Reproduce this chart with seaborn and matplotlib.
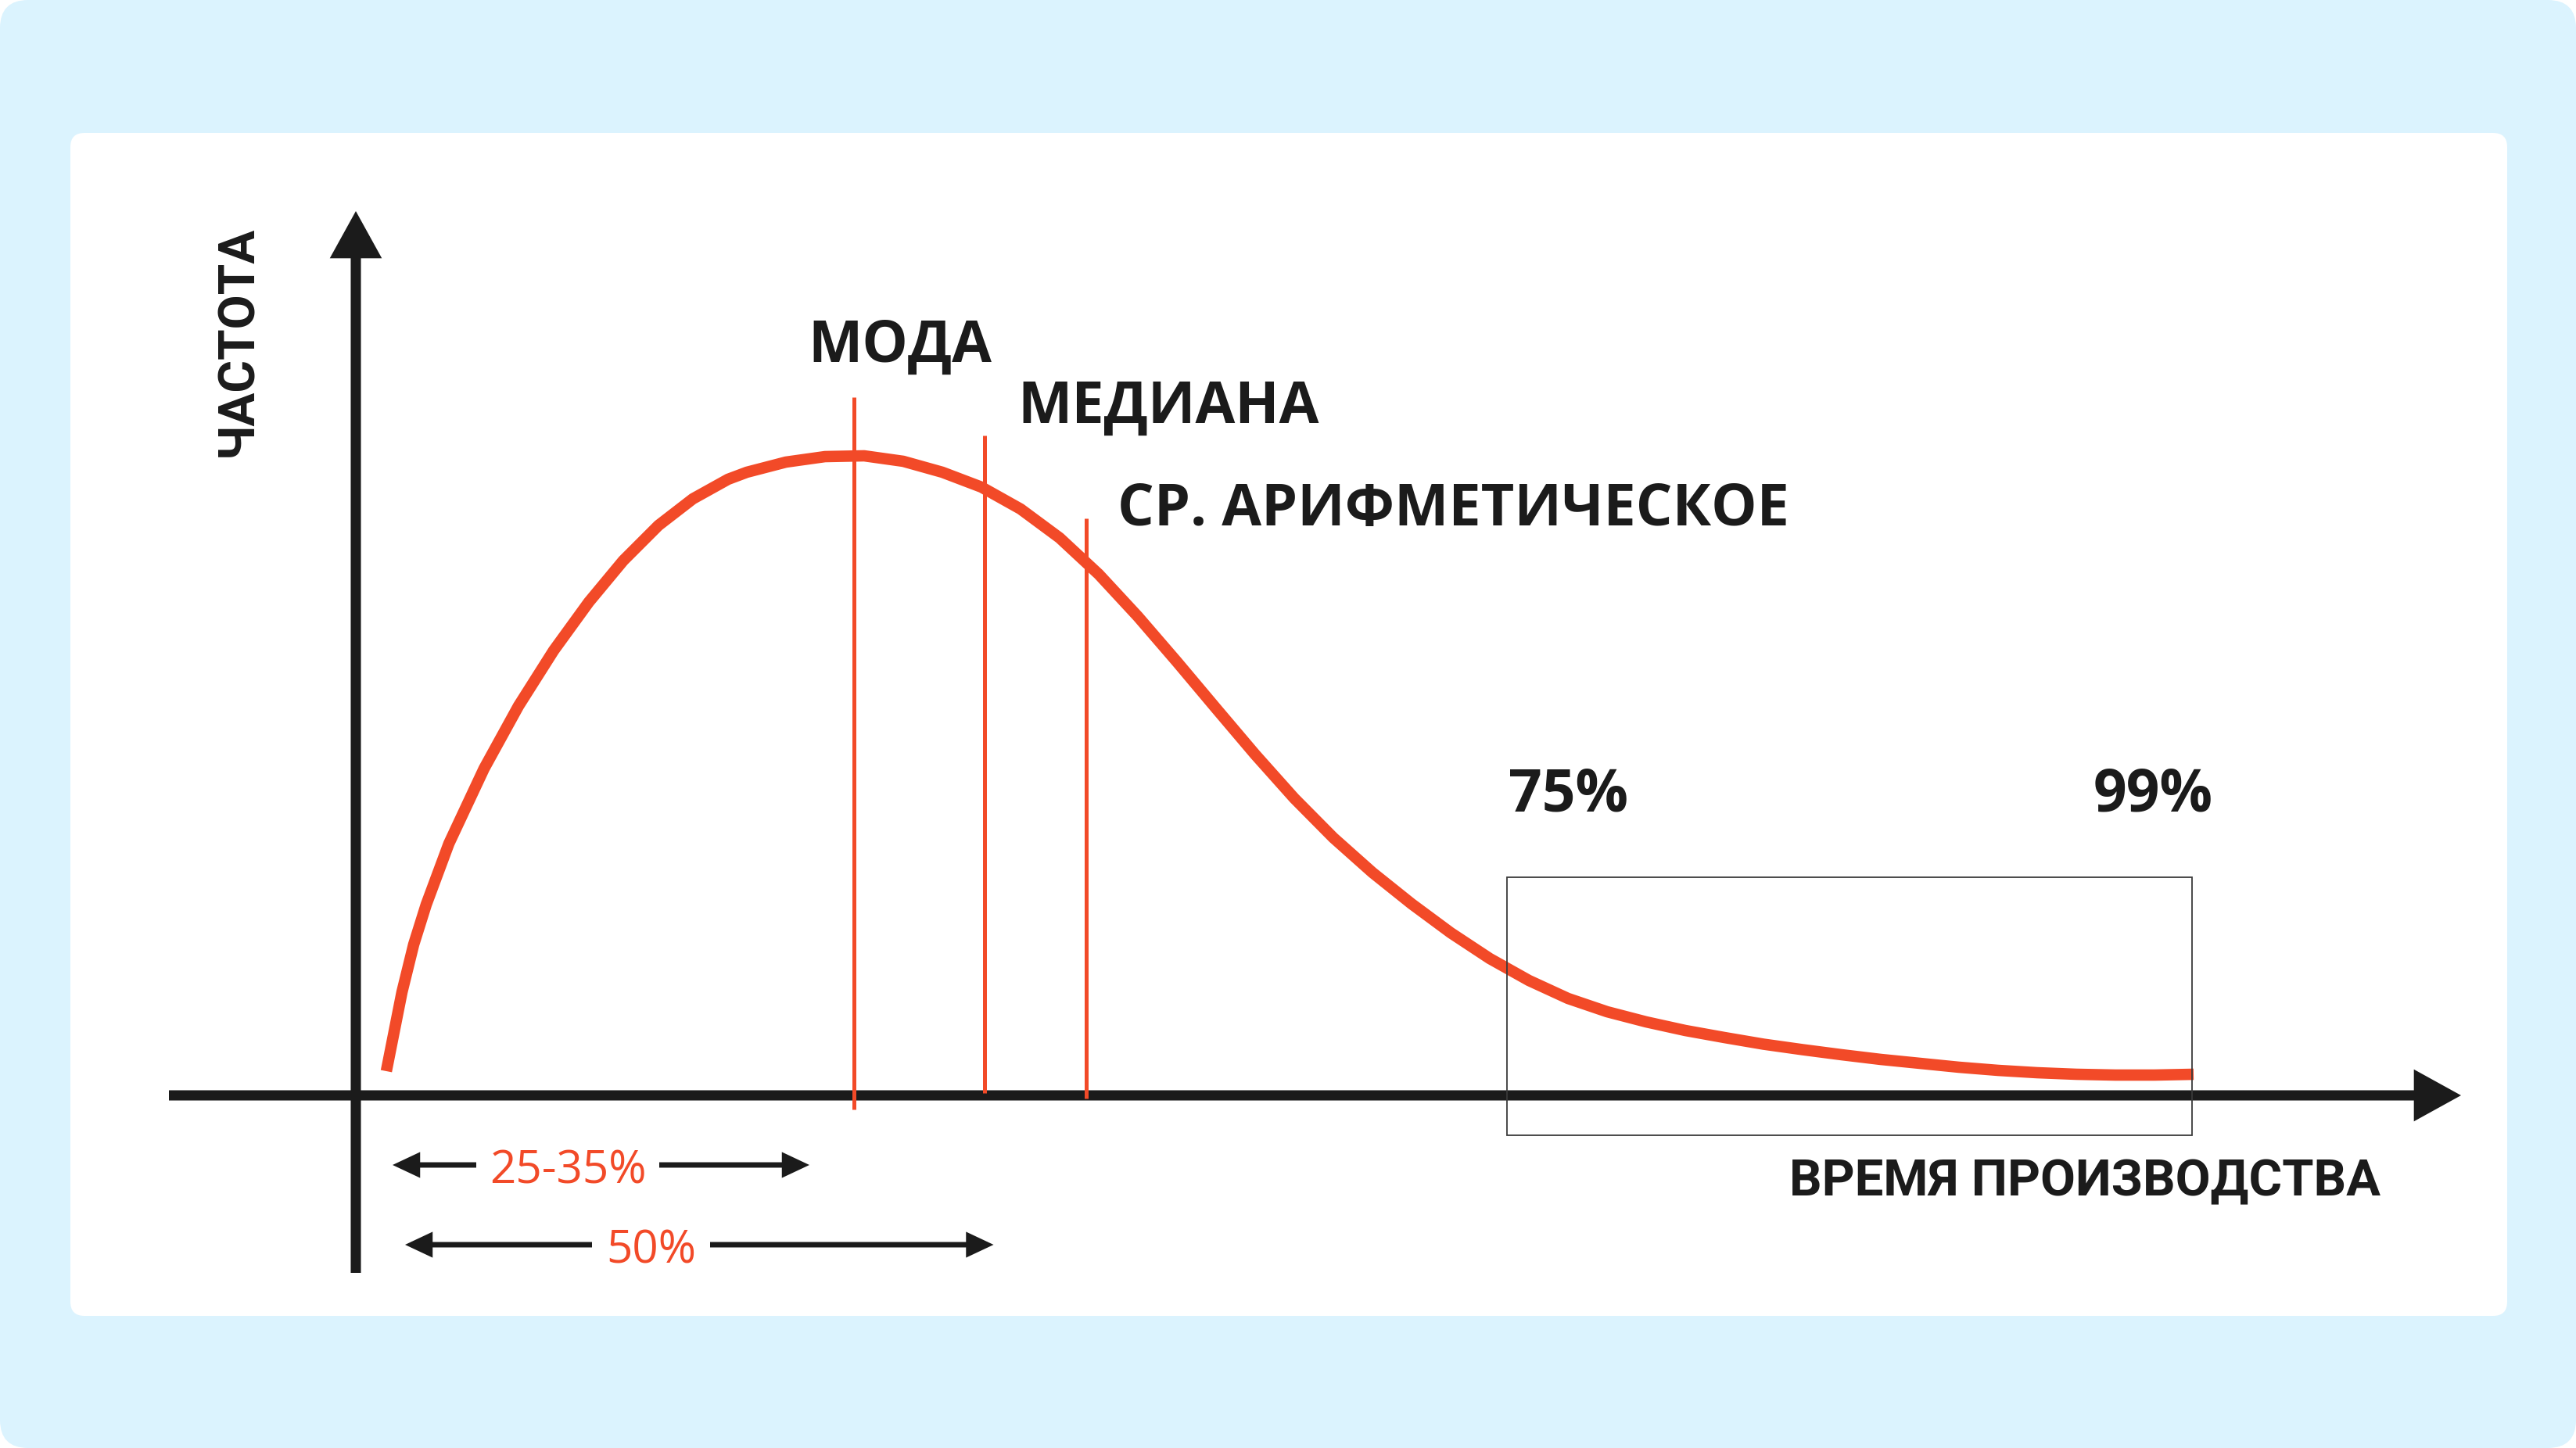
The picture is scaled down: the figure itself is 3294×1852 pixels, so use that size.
import matplotlib
matplotlib.use("Agg")
import numpy as np
import pandas as pd
import matplotlib.pyplot as plt
import seaborn as sns
from matplotlib.patches import FancyBboxPatch, Rectangle

# ---------------- data ----------------
curve_t = [0.39, 0.59, 0.74, 0.90, 1.19, 1.64, 2.08, 2.53, 2.98, 3.42, 3.87, 4.31,
           4.76, 5.00, 5.50, 6.00, 6.50, 7.00, 7.50, 8.00, 8.50, 9.00, 9.50, 10.00,
           10.50, 11.00, 11.50, 12.00, 12.50, 13.00, 13.50, 14.00, 14.50, 15.00,
           15.50, 16.00, 16.50, 17.00, 17.50, 18.00, 18.50, 19.00, 19.50, 20.00,
           20.50, 21.00, 21.50, 22.00, 22.50, 23.00, 23.50]
curve_f = [0.31, 1.32, 1.93, 2.44, 3.22, 4.18, 4.98, 5.69, 6.31, 6.84, 7.29, 7.63,
           7.88, 7.97, 8.10, 8.17, 8.18, 8.11, 7.97, 7.78, 7.50, 7.13, 6.665, 6.125,
           5.545, 4.95, 4.36, 3.80, 3.295, 2.85, 2.45, 2.08, 1.75, 1.47,
           1.24, 1.07, 0.94, 0.83, 0.74, 0.655, 0.585, 0.52, 0.46, 0.41,
           0.36, 0.32, 0.29, 0.27, 0.26, 0.26, 0.27]

mark_names = ["МОДА", "МЕДИАНА", "СР. АРИФМЕТИЧЕСКОЕ"]
mark_t = [6.37, 8.04, 9.34]
mark_top = [8.93, 8.44, 7.38]
mark_bottom = [-0.18, 0.03, -0.04]

pct_labels = ["75%", "99%"]
pct_t = [14.72, 23.48]

range_labels = ["25-35%", "50%"]
range_end = [5.80, 8.155]

x_title = "ВРЕМЯ ПРОИЗВОДСТВА"
y_title = "ЧАСТОТА"

# ---------------- style ----------------
sns.set_theme(style="white")
plt.rcParams["font.family"] = ["Open Sans", "DejaVu Sans"]

RED = "#F24A28"
INK = "#1B1B1B"
BG = "#DBF3FE"

W, H = 3294, 1852
fig = plt.figure(figsize=(W / 100, H / 100), dpi=100)
fig.patch.set_facecolor("white")

# background (pixel coordinates)
bg = fig.add_axes([0, 0, 1, 1])
bg.set_xlim(0, W)
bg.set_ylim(H, 0)
bg.axis("off")
bg.add_patch(FancyBboxPatch((0, 0), W, H, boxstyle="round,pad=0,rounding_size=36",
                            fc=BG, ec="none"))
bg.add_patch(FancyBboxPatch((90, 170), 3116, 1513, boxstyle="round,pad=0,rounding_size=18",
                            fc="white", ec="none"))

# main axes: 1 unit = 100 px, origin at the axes crossing
ax = fig.add_axes([0, 0, 1, 1])
ax.patch.set_alpha(0)

AX_LW = 9.4

def arrow(x0, y0, x1, y1, lw, hl, hw, z=3):
    ax.annotate("", xy=(x1, y1), xytext=(x0, y0),
                arrowprops=dict(arrowstyle=f"-|>,head_length={hl},head_width={hw}",
                                lw=lw, color=INK, shrinkA=0, shrinkB=0,
                                mutation_scale=1, joinstyle="miter", capstyle="butt"),
                zorder=z)

# distribution curve
df = pd.DataFrame({"t": curve_t, "f": curve_f})
sns.lineplot(data=df, x="t", y="f", ax=ax, sort=False, estimator=None,
             color=RED, lw=10.5, solid_capstyle="butt", solid_joinstyle="round",
             zorder=4)
ax.set_xlim(-4.55, 28.39)
ax.set_ylim(-4.51, 14.01)
ax.axis("off")

# axes with arrows
arrow(-2.39, 0, 26.92, 0, AX_LW, 29, 16)
arrow(0, -2.27, 0, 11.31, AX_LW, 29, 16)

# mode / median / mean lines
ax.vlines(mark_t, mark_bottom, mark_top, colors=RED, lw=3.6, zorder=6)

label_pos = [(5.78, 9.38), (8.46, 8.60), (9.74, 7.29)]
for name, (tx, ty) in zip(mark_names, label_pos):
    ax.text(tx, ty, name, ha="left", va="baseline", fontsize=53,
            fontweight="bold", color=INK, zorder=7)

# tail box (75% .. 99%)
ax.add_patch(Rectangle((pct_t[0], -0.51), pct_t[1] - pct_t[0], 2.79 + 0.51,
                       fill=False, ec="#3a3a3a", lw=1.3, zorder=7))
for lab, tx in zip(pct_labels, [14.74, 22.22]):
    ax.text(tx, 3.63, lab, ha="left", va="baseline", fontsize=54,
            fontweight="bold", color=INK, zorder=7)

# range arrows under the axis
SM_LW = 5.0
# 25-35%
arrow(1.54, -0.89, 0.47, -0.89, SM_LW, 17, 8)
arrow(3.88, -0.89, range_end[0], -0.89, SM_LW, 17, 8)
ax.text(2.71, -1.13, range_labels[0], ha="center", va="baseline",
        fontsize=42, color=RED, zorder=7)
# 50%
arrow(3.02, -1.91, 0.63, -1.91, SM_LW, 17, 8)
arrow(4.53, -1.91, range_end[1], -1.91, SM_LW, 17, 8)
ax.text(3.78, -2.14, range_labels[1], ha="center", va="baseline",
        fontsize=42, color=RED, zorder=7)

# axis titles (narrow bold)
cond = ["Roboto", "DejaVu Sans"]
ax.text(18.33, -1.28, x_title, ha="left", va="baseline", fontsize=47,
        fontweight="bold", color=INK, family=cond, zorder=7)
ax.text(-1.33, 9.65, y_title, ha="center", va="baseline", rotation=90,
        rotation_mode="anchor", fontsize=46, fontweight="bold", color=INK,
        family=cond, zorder=7)

fig.savefig("out.png", dpi=100, facecolor="white")
